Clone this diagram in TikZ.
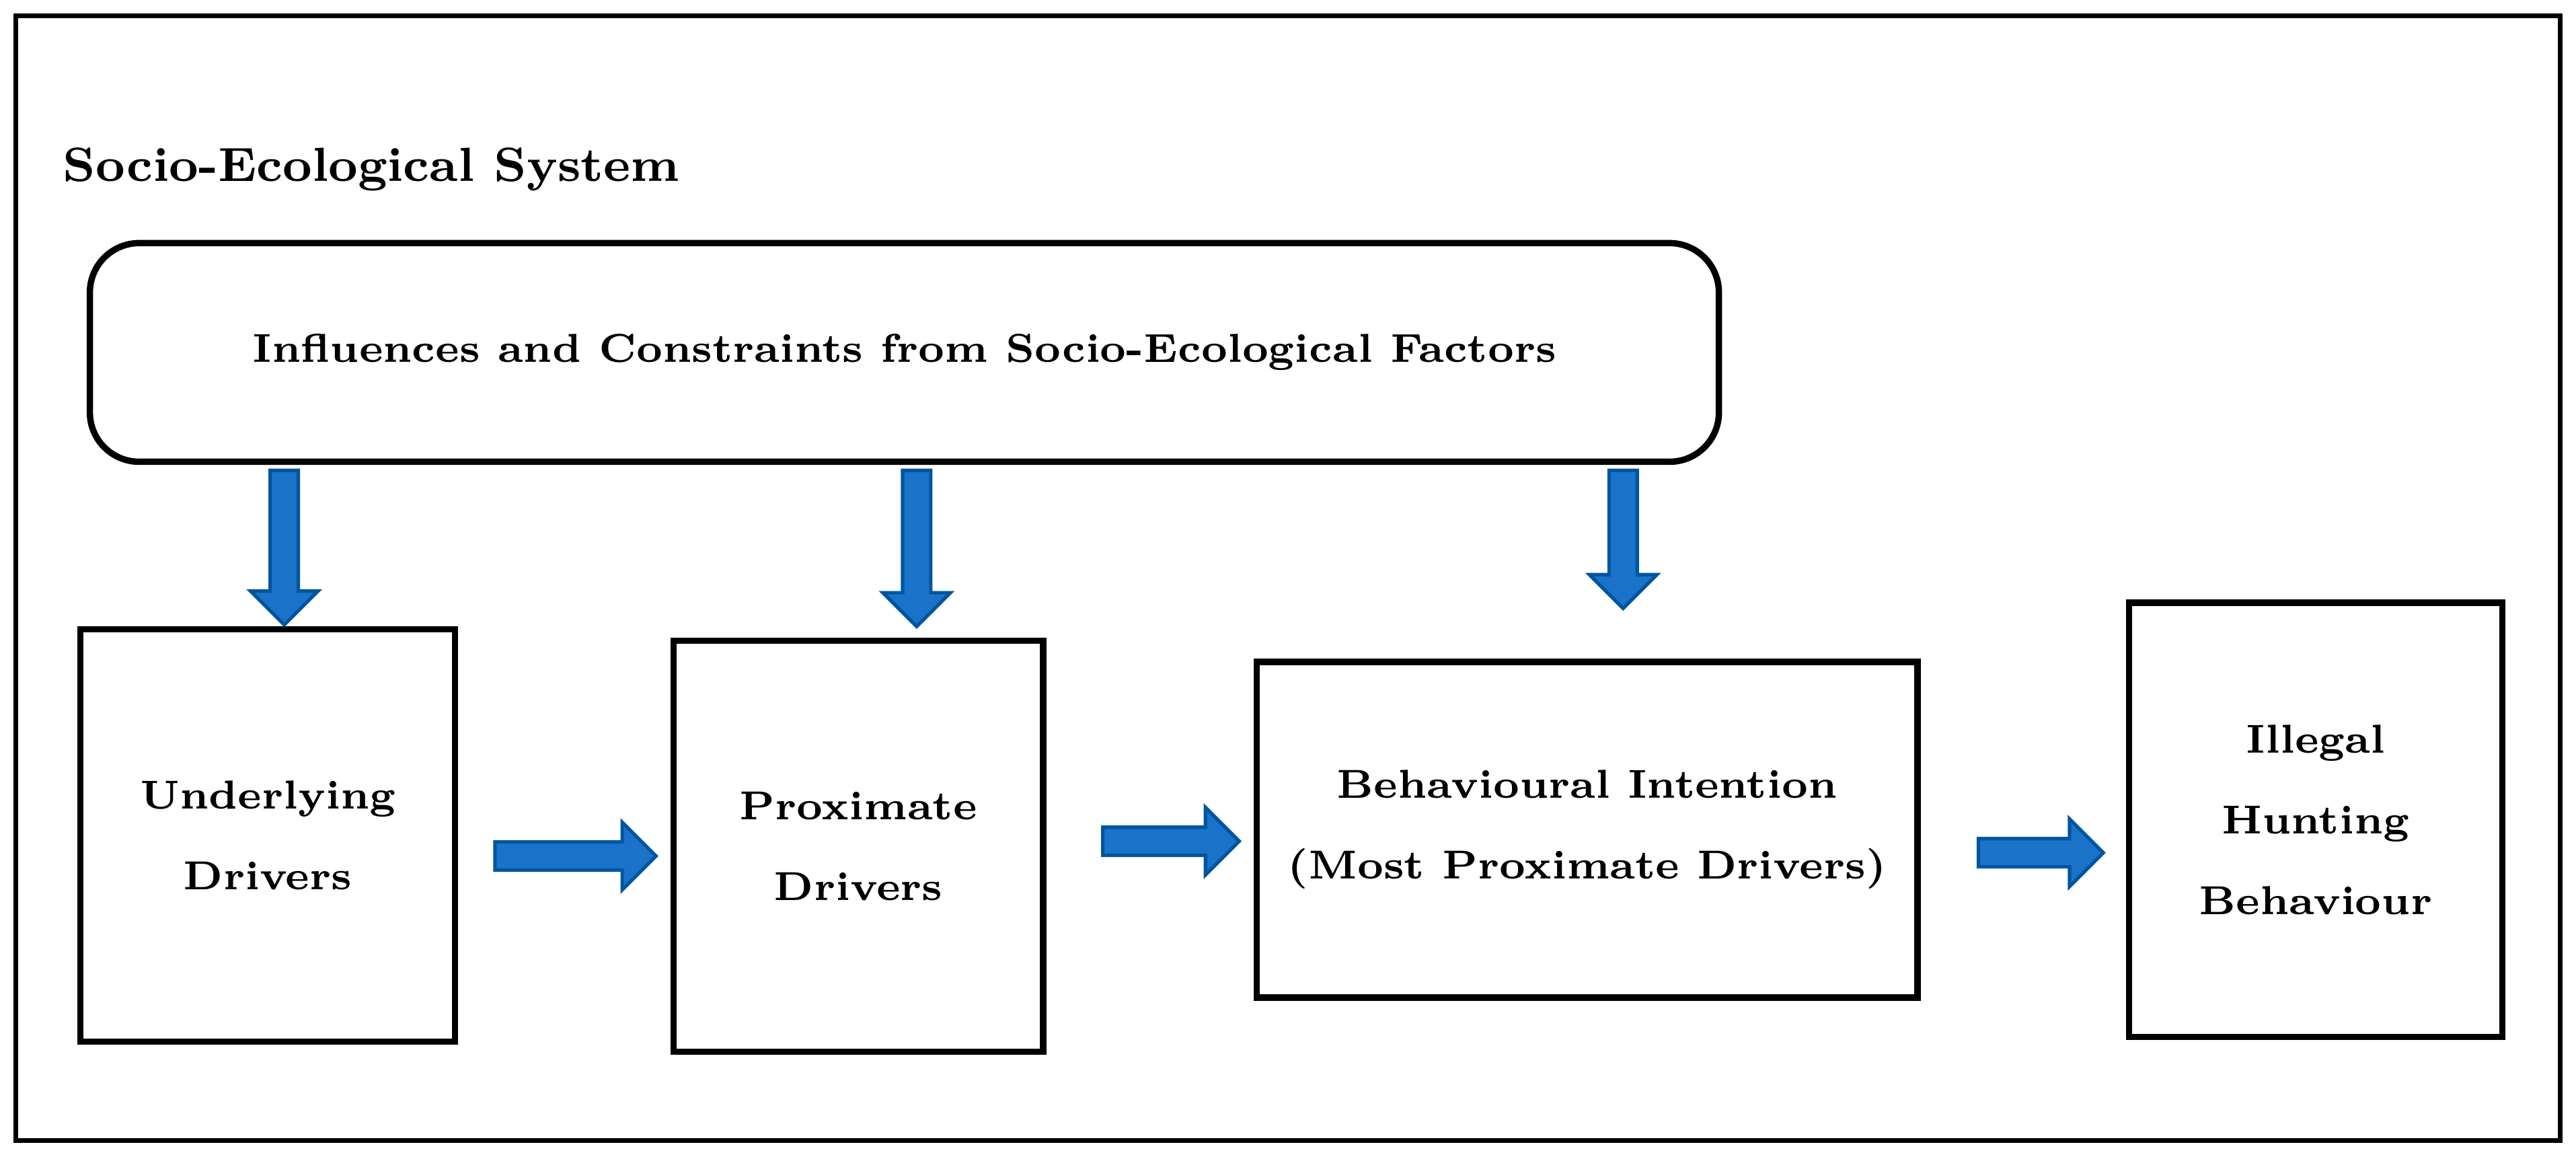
\documentclass[tikz,border=0pt]{standalone}
\usepackage{tikz}
\usetikzlibrary{positioning,calc,shapes.arrows}

\definecolor{arrowfill}{HTML}{1A73C8}
\definecolor{arrowline}{HTML}{0055A0}

\tikzset{
  box/.style={draw,line width=1.1pt,align=center,font=\bfseries\fontsize{7}{14}\selectfont},
  blockarrow/.style={single arrow,draw=arrowline,fill=arrowfill,line width=0.6pt,
    inner sep=0.075cm,single arrow head extend=0.12cm,
    single arrow tip angle=90}
}

\begin{document}
\begin{tikzpicture}[x=0.01cm,y=-0.01cm]
        \useasboundingbox (0,0) rectangle (1568,704);

        % Frame and title
        \node[draw,line width=0.8pt,minimum width=15.48cm,minimum height=6.84cm] (frame) at (784,352) {};
        \node[anchor=west,font=\bfseries\fontsize{8.3}{10}\selectfont] (title) at (26,103) {Socio-Ecological System};

        % Top factors box
        \node[box,rounded corners=0.3cm,minimum width=9.91cm,minimum height=1.33cm] (factors) at (550.5,214.5)
          {Influences and Constraints from Socio-Ecological Factors};

        % Stage boxes
        \node[box,minimum width=2.28cm,minimum height=2.51cm] (under) at (163,508.5) {Underlying\\Drivers};
        \node[box,minimum width=2.25cm,minimum height=2.50cm] (prox) at (522.5,515) {Proximate\\Drivers};
        \node[box,minimum width=4.02cm,minimum height=2.04cm] (intent) at (966,505) {Behavioural Intention\\(Most Proximate Drivers)};
        \node[box,minimum width=2.27cm,minimum height=2.64cm] (illegal) at (1409.5,499) {Illegal\\Hunting\\Behaviour};

        % Downward arrows
        \node[blockarrow,rotate=-90,minimum height=0.94cm] (down1) at (173,329) {};
        \node[blockarrow,rotate=-90,minimum height=0.95cm] (down2) at (558,329.5) {};
        \node[blockarrow,rotate=-90,minimum height=0.84cm] (down3) at (988,324) {};

        % Rightward arrows
        \node[blockarrow,minimum height=0.98cm] (right1) at (346,521) {};
        \node[blockarrow,minimum height=0.83cm] (right2) at (708.5,512) {};
        \node[blockarrow,minimum height=0.76cm] (right3) at (1238,519) {};
\end{tikzpicture}
\end{document}
